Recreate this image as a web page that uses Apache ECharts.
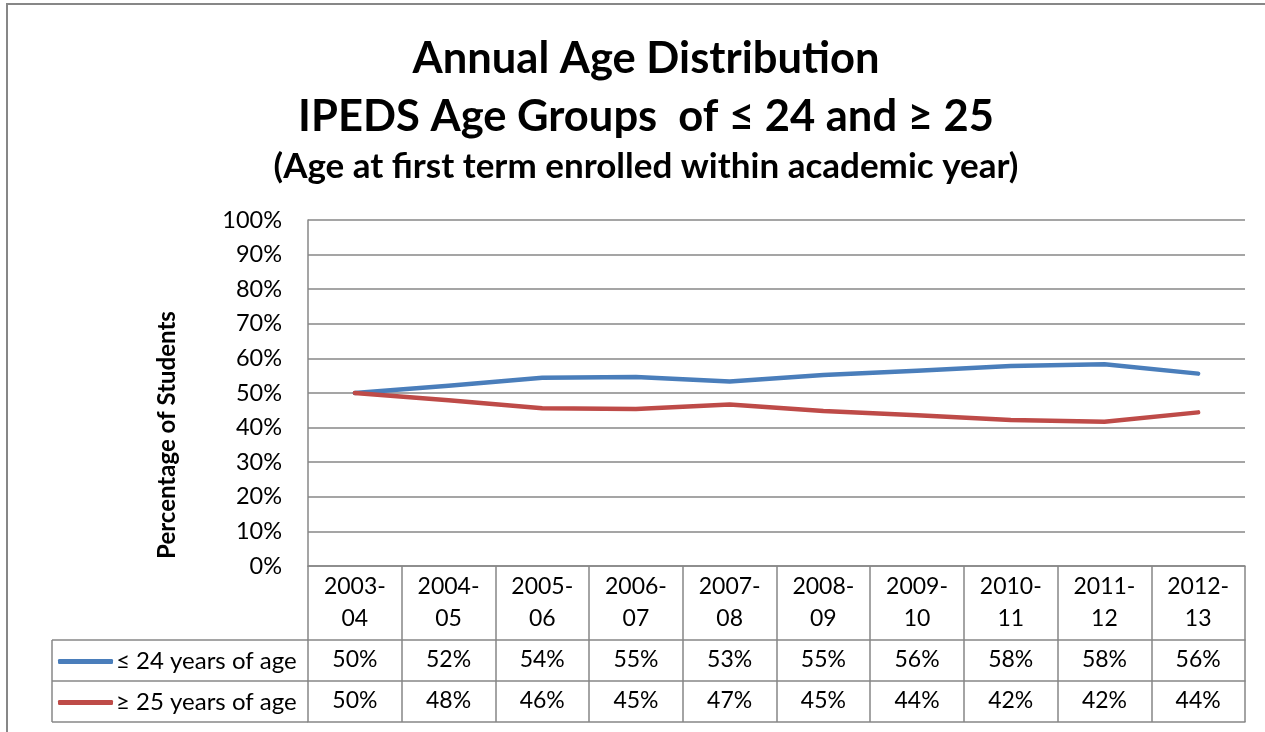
<!DOCTYPE html>
<html>
<head>
<meta charset="utf-8">
<script src="https://cdn.jsdelivr.net/npm/echarts@6/dist/echarts.min.js"></script>
<style>
html,body{margin:0;padding:0;background:#fff;}
#chart{width:1265px;height:732px;}
</style>
</head>
<body>
<div id="chart"></div>
<script>
const categories = ['2003-04','2004-05','2005-06','2006-07','2007-08','2008-09','2009-10','2010-11','2011-12','2012-13'];
const seriesNames = ['≤ 24 years of age', '≥ 25 years of age'];
const youngPct = [50.0, 52.1, 54.4, 54.6, 53.3, 55.2, 56.4, 57.8, 58.3, 55.6];
const olderPct = [50.0, 47.9, 45.6, 45.4, 46.7, 44.8, 43.6, 42.2, 41.7, 44.4];
const yTicks = [0, 10, 20, 30, 40, 50, 60, 70, 80, 90, 100];

const FONT = 'Lato';
const GRAY = '#878787';
const BLUE = '#4A7EBB';
const RED = '#BE4B48';

const chart = echarts.init(document.getElementById('chart'));

function catLabel(v){ const p = v.split('-'); return p[0] + '-\n' + p[1]; }

const option = {
  animation: false,
  textStyle: { fontFamily: FONT, color: '#000' },
  title: [
    { text: 'Annual Age Distribution', left: 641, textAlign: 'center', top: 32,
      textStyle: { fontFamily: FONT, fontSize: 43.5, fontWeight: 'bold', color: '#000' } },
    { text: 'IPEDS Age Groups  of ≤ 24 and ≥ 25', left: 641, textAlign: 'center', top: 90,
      textStyle: { fontFamily: FONT, fontSize: 43.5, fontWeight: 'bold', color: '#000' } },
    { text: '(Age at first term enrolled within academic year)', left: 641, textAlign: 'center', top: 144,
      textStyle: { fontFamily: FONT, fontSize: 35, fontWeight: 'bold', color: '#000' } }
  ],
  legend: {
    orient: 'vertical', left: 58, top: 648, padding: 0,
    itemWidth: 55, itemHeight: 5, itemGap: 14,
    icon: 'roundRect',
    data: seriesNames,
    textStyle: { fontFamily: FONT, fontSize: 24, lineHeight: 24, color: '#000', padding: [0,0,3,-2] },
    selectedMode: false
  },
  grid: { left: 308, right: 20, top: 220, bottom: 166, containLabel: false },
  yAxis: {
    type: 'value', min: 0, max: 100, interval: 10,
    axisLine: { show: true, lineStyle: { color: GRAY, width: 1.5 } },
    axisTick: { show: false },
    axisLabel: { formatter: '{value}%', fontFamily: FONT, fontSize: 23.5, color: '#000', margin: 26 },
    splitLine: { lineStyle: { color: GRAY, width: 1.5 } }
  },
  xAxis: [
    { type: 'category', data: categories, position: 'bottom', offset: 0,
      axisLine: { lineStyle: { color: GRAY, width: 1.5 } },
      axisTick: { show: true, interval: 0, length: 156, lineStyle: { color: GRAY, width: 1.5 } },
      axisLabel: { interval: 0, formatter: catLabel, fontFamily: FONT, fontSize: 23, lineHeight: 32, color: '#000', margin: 5 },
      splitLine: { show: false } },
    { type: 'category', data: categories, position: 'bottom', offset: 74,
      axisLine: { lineStyle: { color: GRAY, width: 1.5 } },
      axisTick: { show: false },
      axisLabel: { interval: 0, formatter: (v, i) => Math.round(youngPct[i]) + '%', fontFamily: FONT, fontSize: 23, lineHeight: 24, color: '#000', margin: 8 },
      splitLine: { show: false } },
    { type: 'category', data: categories, position: 'bottom', offset: 115,
      axisLine: { lineStyle: { color: GRAY, width: 1.5 } },
      axisTick: { show: false },
      axisLabel: { interval: 0, formatter: (v, i) => Math.round(olderPct[i]) + '%', fontFamily: FONT, fontSize: 23, lineHeight: 24, color: '#000', margin: 8 },
      splitLine: { show: false } },
    { type: 'category', data: categories, position: 'bottom', offset: 156,
      axisLine: { lineStyle: { color: GRAY, width: 1.5 } },
      axisTick: { show: false }, axisLabel: { show: false }, splitLine: { show: false } }
  ],
  series: [
    { name: seriesNames[0], type: 'line', data: youngPct, xAxisIndex: 0, showSymbol: false, symbol: 'none',
      color: BLUE, lineStyle: { color: BLUE, width: 4.5, cap: 'round', join: 'round' } },
    { name: seriesNames[1], type: 'line', data: olderPct, xAxisIndex: 0, showSymbol: false, symbol: 'none',
      color: RED, lineStyle: { color: RED, width: 4.5, cap: 'round', join: 'round' } }
  ],
  graphic: [
    { type: 'rect', shape: { x: 7, y: 4, width: 1400, height: 900 }, style: { fill: null, stroke: GRAY, lineWidth: 2 }, silent: true, z: -1 },
    { type: 'text', x: 167, y: 435, rotation: Math.PI / 2,
      style: { text: 'Percentage of Students', align: 'center', verticalAlign: 'middle',
               fontFamily: FONT, fontSize: 24, fontWeight: 'bold', fill: '#000' }, silent: true },
    { type: 'line', shape: { x1: 52, y1: 640, x2: 308, y2: 640 }, style: { stroke: GRAY, lineWidth: 1.5 }, silent: true },
    { type: 'line', shape: { x1: 52, y1: 681, x2: 308, y2: 681 }, style: { stroke: GRAY, lineWidth: 1.5 }, silent: true },
    { type: 'line', shape: { x1: 52, y1: 722, x2: 308, y2: 722 }, style: { stroke: GRAY, lineWidth: 1.5 }, silent: true },
    { type: 'line', shape: { x1: 52, y1: 640, x2: 52, y2: 722 }, style: { stroke: GRAY, lineWidth: 1.5 }, silent: true }
  ]
};
chart.setOption(option);
</script>
</body>
</html>
